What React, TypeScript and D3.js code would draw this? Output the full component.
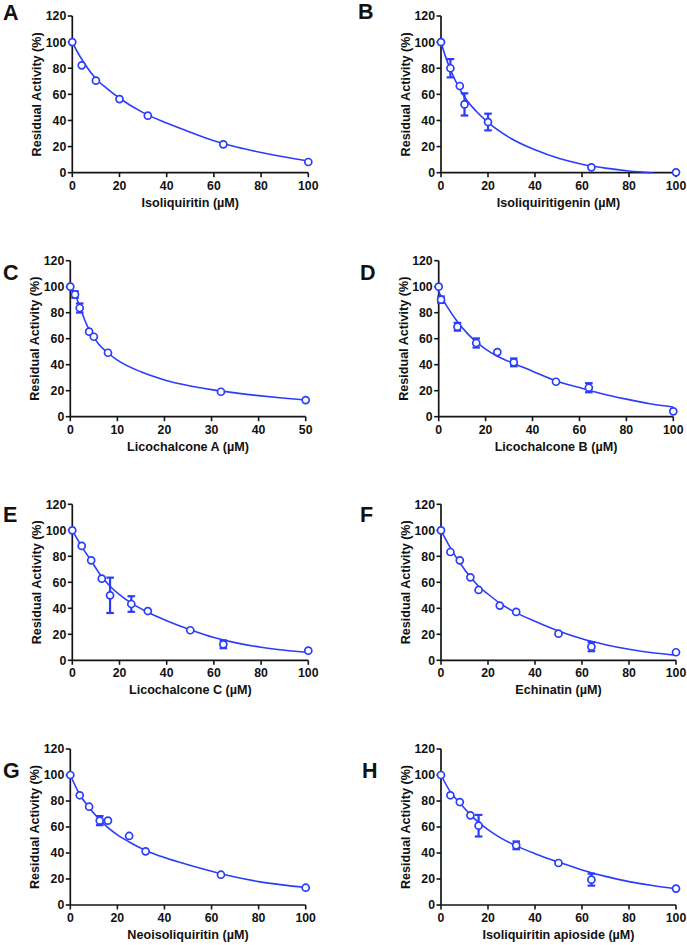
import React from "react";
import * as d3 from "d3";

const BLUE = "#2b3dfa";
const FONT = "'Liberation Sans', Arial, sans-serif";

const letters = ["A", "B", "C", "D", "E", "F", "G", "H"];
const xTitles = [
  "Isoliquiritin (µM)",
  "Isoliquiritigenin (µM)",
  "Licochalcone A (µM)",
  "Licochalcone B (µM)",
  "Licochalcone C (µM)",
  "Echinatin (µM)",
  "Neoisoliquiritin (µM)",
  "Isoliquiritin apioside (µM)",
];
const xMaxes = [100, 100, 50, 100, 100, 100, 100, 100];
const yTicks = [0, 20, 40, 60, 80, 100, 120];

// measured points (concentration, residual activity, error)
const concA = [0, 4, 10, 20, 32, 64, 100];
const actA = [100, 82.2, 70.5, 56.4, 43.7, 21.7, 8.2];
const errA = [0, 0, 0, 0, 0, 0, 0];
const fitXA = [0, 2, 5, 10, 15, 20, 30, 40, 50, 60, 70, 80, 90, 100];
const fitYA = [100, 93, 84, 72, 64, 57, 46, 38, 31, 24.5, 19.5, 15.5, 12, 9];

const concB = [0, 4, 8, 10, 20, 64, 100];
const actB = [100, 80, 66.4, 52.3, 38.8, 4.1, 0.3];
const errB = [0, 7, 0, 8.5, 6.4, 0, 0];
const fitXB = [0, 2, 4, 6, 8, 10, 15, 20, 30, 40, 50, 60, 70, 80, 90];
const fitYB = [100, 88.5, 79, 71, 64, 58, 47, 38.5, 26, 17.5, 11, 6.5, 3.5, 1.3, 0];

const concC = [0, 1, 2, 4, 5, 8, 32, 50];
const actC = [100, 94, 83.6, 65.4, 61.5, 49.2, 19.2, 12.8];
const errC = [0, 2.5, 3.5, 0, 0, 0, 0, 0];
const fitXC = [0, 0.5, 1, 2, 3, 4, 5, 6, 8, 10, 15, 20, 25, 30, 35, 40, 45, 50];
const fitYC = [100, 98, 94, 85, 75, 67, 61, 56, 49, 43.5, 34.5, 28.3, 24, 20.8, 18.3, 16.2, 14.4, 12.9];

const concD = [0, 1, 8, 16, 25, 32, 50, 64, 100];
const actD = [100, 90, 69.2, 56.7, 49.7, 41.8, 26.9, 22.3, 4.1];
const errD = [0, 2.5, 3, 3.5, 0, 3, 0, 3.5, 0];
const fitXD = [0, 2, 4, 8, 12, 16, 20, 25, 32, 40, 50, 60, 70, 80, 90, 100];
const fitYD = [96, 89.5, 83.5, 73, 64.5, 57.5, 52, 46.5, 41, 35, 27.5, 22.5, 17.5, 13.5, 10, 7.5];

const concE = [0, 4, 8, 12.5, 16, 25, 32, 50, 64, 100];
const actE = [100, 88, 76.9, 62.8, 50, 43.3, 37.9, 23.1, 12.3, 7.4];
const errE = [0, 0, 0, 0, 13.6, 6, 0, 0, 3, 0];
const fitXE = [0, 4, 8, 12, 16, 20, 25, 32, 40, 50, 60, 70, 80, 90, 100];
const fitYE = [100, 87.5, 76.5, 65.5, 57, 50.5, 44, 37, 30.5, 23.5, 17.5, 13.2, 10, 7.7, 6];

const concF = [0, 4, 8, 12.5, 16, 25, 32, 50, 64, 100];
const actF = [100, 83.3, 76.9, 63.8, 54.1, 42.1, 37.2, 20.5, 10.5, 6.2];
const errF = [0, 0, 0, 0, 0, 0, 0, 0, 3.5, 0];
const fitXF = [0, 4, 8, 12.5, 16, 20, 25, 32, 40, 50, 60, 70, 80, 90, 100];
const fitYF = [100, 86.5, 75, 64, 57, 51, 44, 36.5, 30, 22.5, 16.5, 12, 8.5, 5.8, 4];

const concG = [0, 4, 8, 12.5, 16, 25, 32, 64, 100];
const actG = [100, 84.4, 75.6, 64.9, 64.9, 53.1, 41.3, 23.3, 13.3];
const errG = [0, 0, 0, 3.5, 0, 0, 0, 0, 0];
const fitXG = [0, 4, 8, 12, 16, 20, 25, 32, 40, 50, 60, 70, 80, 90, 100];
const fitYG = [100, 85, 75, 66.5, 59.5, 54, 48.5, 42, 36.5, 31, 26, 21.5, 18, 15.5, 13.5];

const concH = [0, 4, 8, 12.5, 16, 32, 50, 64, 100];
const actH = [100, 84.4, 79.2, 69, 61, 45.9, 32.3, 19.5, 12.6];
const errH = [0, 0, 0, 0, 8.3, 3, 0, 4.6, 0];
const fitXH = [0, 4, 8, 12, 16, 20, 25, 32, 40, 50, 60, 70, 80, 90, 100];
const fitYH = [100, 87, 78.5, 70.5, 63.5, 58, 52, 45.5, 39.5, 33, 27, 22, 18, 15, 12.5];

const series = [
  [concA, actA, errA, fitXA, fitYA],
  [concB, actB, errB, fitXB, fitYB],
  [concC, actC, errC, fitXC, fitYC],
  [concD, actD, errD, fitXD, fitYD],
  [concE, actE, errE, fitXE, fitYE],
  [concF, actF, errF, fitXF, fitYF],
  [concG, actG, errG, fitXG, fitYG],
  [concH, actH, errH, fitXH, fitYH],
];

// plot frames in page pixels
const frames = [
  { left: 72.3, right: 308.3, top: 16, bottom: 172.7, lx: 3, ly: 20 },
  { left: 441, right: 676, top: 16, bottom: 172.7, lx: 358, ly: 19 },
  { left: 70.3, right: 305.7, top: 260.7, bottom: 416.7, lx: 3, ly: 280 },
  { left: 438.7, right: 673.3, top: 260.7, bottom: 416.7, lx: 360, ly: 280 },
  { left: 72.3, right: 308.3, top: 504.3, bottom: 660.3, lx: 3, ly: 521.5 },
  { left: 441, right: 676, top: 504.3, bottom: 660.3, lx: 360, ly: 521.5 },
  { left: 70.3, right: 305.7, top: 749, bottom: 905, lx: 3, ly: 778 },
  { left: 441, right: 676, top: 749, bottom: 905, lx: 362, ly: 778 },
];

function Panel({ i }: { i: number }) {
  const f = frames[i];
  const [conc, act, err, fitX, fitY] = series[i];
  const x = d3.scaleLinear().domain([0, xMaxes[i]]).range([f.left, f.right]);
  const y = d3.scaleLinear().domain([0, 120]).range([f.bottom, f.top]);
  const line = d3
    .line<number>()
    .x((_, k) => x(fitX[k]))
    .y((v) => y(v))
    .curve(d3.curveMonotoneX);
  const xTicks = x.ticks(5);
  const cy = (f.top + f.bottom) / 2;
  const cx = (f.left + f.right) / 2;
  const axisColor = "#151515";

  return (
    <g fontFamily={FONT} fontWeight="bold" fill="#111">
      <text x={f.lx} y={f.ly} fontSize={21.5}>
        {letters[i]}
      </text>
      {/* axes */}
      <line x1={f.left} x2={f.left} y1={f.top} y2={f.bottom} stroke={axisColor} strokeWidth={1.7} />
      <line x1={f.left} x2={f.right} y1={f.bottom} y2={f.bottom} stroke={axisColor} strokeWidth={1.7} />
      {yTicks.map((t) => (
        <g key={"y" + t}>
          <line x1={f.left - 4.5} x2={f.left} y1={y(t)} y2={y(t)} stroke={axisColor} strokeWidth={1.6} />
          <text x={f.left - 6} y={y(t)} dy="0.36em" textAnchor="end" fontSize={12.3}>
            {t}
          </text>
        </g>
      ))}
      {xTicks.map((t) => (
        <g key={"x" + t}>
          <line x1={x(t)} x2={x(t)} y1={f.bottom} y2={f.bottom + 4.5} stroke={axisColor} strokeWidth={1.6} />
          <text x={x(t)} y={f.bottom + 16.8} textAnchor="middle" fontSize={12.3}>
            {t}
          </text>
        </g>
      ))}
      <text x={cx} y={f.bottom + 34} textAnchor="middle" fontSize={12.6}>
        {xTitles[i]}
      </text>
      <text
        transform={`translate(${f.left - 31},${cy}) rotate(-90)`}
        textAnchor="middle"
        fontSize={12.6}
      >
        Residual Activity (%)
      </text>
      {/* fit curve */}
      <path d={line(fitY) || ""} fill="none" stroke={BLUE} strokeWidth={1.6} />
      {/* error bars */}
      {conc.map((c, k) =>
        err[k] > 0 ? (
          <g key={"e" + k} stroke={BLUE} strokeWidth={2.2}>
            <line x1={x(c)} x2={x(c)} y1={y(act[k] - err[k])} y2={y(act[k] + err[k])} />
            <line x1={x(c) - 3.8} x2={x(c) + 3.8} y1={y(act[k] - err[k])} y2={y(act[k] - err[k])} />
            <line x1={x(c) - 3.8} x2={x(c) + 3.8} y1={y(act[k] + err[k])} y2={y(act[k] + err[k])} />
          </g>
        ) : null
      )}
      {/* symbols */}
      {conc.map((c, k) => (
        <circle key={"c" + k} cx={x(c)} cy={y(act[k])} r={3.5} fill="#fff" stroke={BLUE} strokeWidth={1.7} />
      ))}
    </g>
  );
}

export default function App() {
  return (
    <svg
      width={687}
      height={945}
      style={{ position: "absolute", left: 0, top: 0, display: "block", background: "#fff" }}
    >
      {letters.map((_, i) => (
        <Panel key={i} i={i} />
      ))}
    </svg>
  );
}
